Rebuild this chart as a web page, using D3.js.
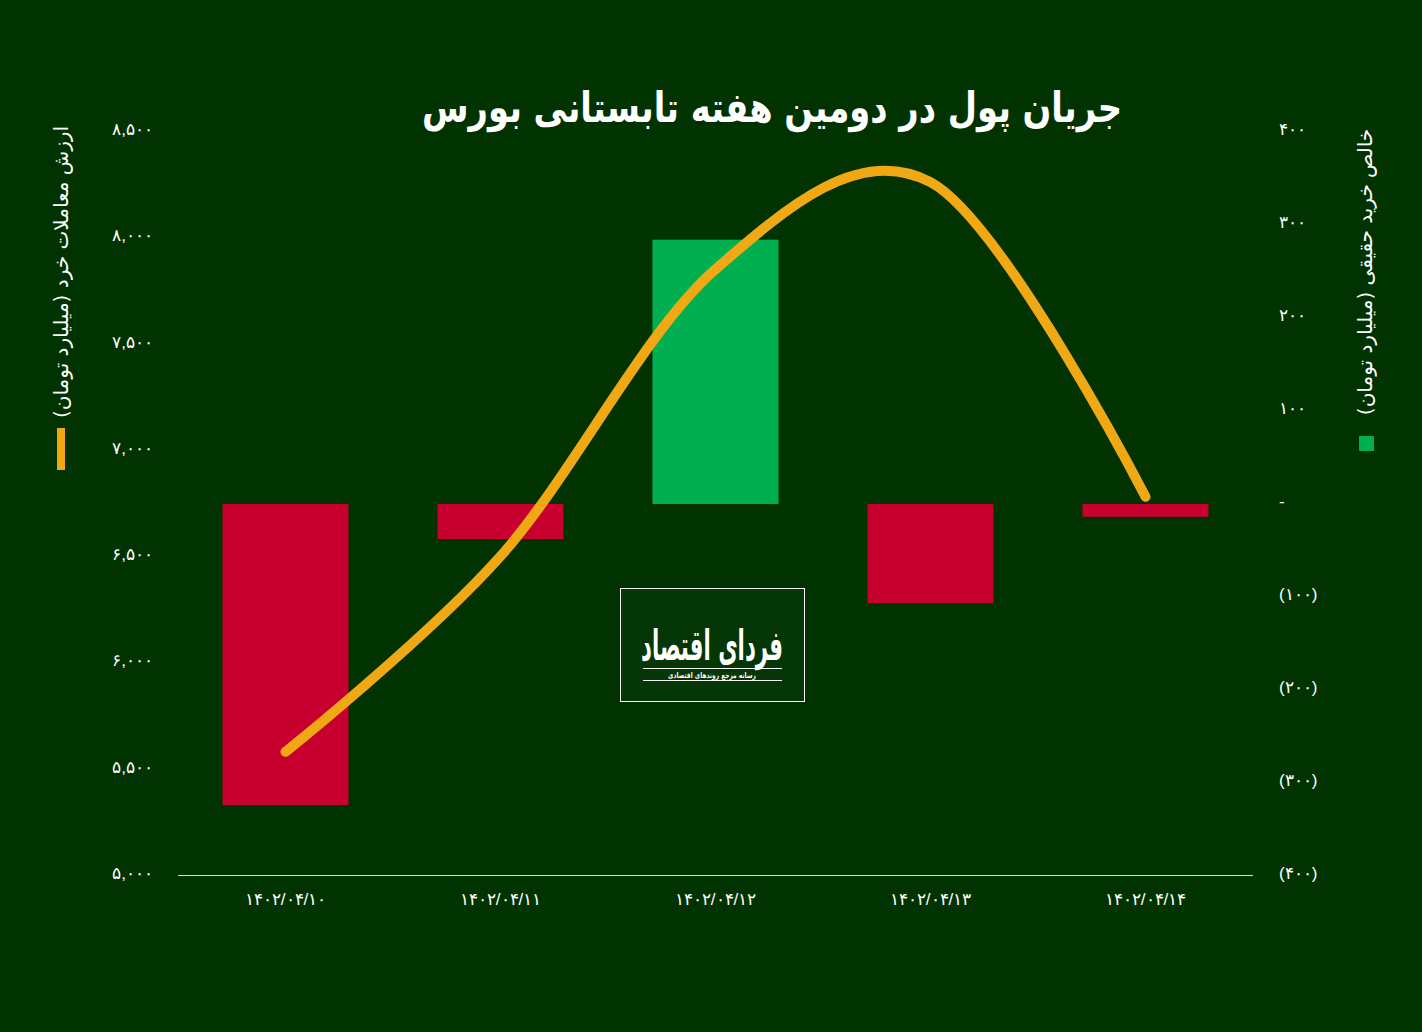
<!DOCTYPE html>
<html><head><meta charset="utf-8">
<script src="https://cdn.jsdelivr.net/npm/d3@7"></script>
<style>
html,body{margin:0;padding:0;background:#003300;}
svg{display:block;font-family:"DejaVu Sans","Noto Sans",sans-serif;}
</style></head>
<body>
<svg id="c" width="1422" height="1032"></svg>
<script>
const dates = ["۱۴۰۲/۰۴/۱۰","۱۴۰۲/۰۴/۱۱","۱۴۰۲/۰۴/۱۲","۱۴۰۲/۰۴/۱۳","۱۴۰۲/۰۴/۱۴"];
const netRetailBuy = [-327, -41, 281, -110, -17];
const retailTradeValue = [5570, 6490, 7840, 8250, 6770];
const leftTicks = [5000,5500,6000,6500,7000,7500,8000,8500];
const rightTicks = [-400,-300,-200,-100,0,100,200,300,400];
const title = "جریان پول در دومین هفته تابستانی بورس";
const leftTitle = "ارزش معاملات خرد (میلیارد تومان)";
const rightTitle = "خالص خرید حقیقی (میلیارد تومان)";

const fa = s => String(s).replace(/\d/g, d => "۰۱۲۳۴۵۶۷۸۹"[d]);
const fmtLeft = v => fa(d3.format(",")(v));
const fmtRight = v => v === 0 ? "-" : (v < 0 ? "(" + fa(-v) + ")" : fa(v));

const svg = d3.select("#c");
const W = 1422, H = 1032;
svg.append("rect").attr("width",W).attr("height",H).attr("fill","#003300");

const x = d3.scaleBand().domain(dates).range([178,1253]).paddingInner(0.414).paddingOuter(0.207);
const yL = d3.scaleLinear().domain([5000,8500]).range([873,129]);
const yR = d3.scaleLinear().domain([-400,400]).range([873,129]);

// title (horizontally condensed to the reference width)
const tt = svg.append("text").attr("x",0).attr("y",0).attr("text-anchor","middle")
  .attr("direction","rtl").attr("fill","#ffffff").attr("font-size",42).attr("font-weight","bold")
  .text(title);
const tw = tt.node().getComputedTextLength();
tt.attr("transform",`translate(772,122) scale(${700/tw},1)`);

// bars
svg.append("g").selectAll("rect").data(netRetailBuy).join("rect")
  .attr("x",(d,i)=>x(dates[i]))
  .attr("width",x.bandwidth())
  .attr("y",d=>d>=0?yR(d):yR(0)+3)
  .attr("height",d=>Math.abs(yR(d)-yR(0)) - (d>=0?-3:3))
  .attr("fill",d=>d>=0?"#00B050":"#C8002F");

// baseline
svg.append("line").attr("x1",178).attr("x2",1253).attr("y1",875.5).attr("y2",875.5)
  .attr("stroke","#d9d9d9").attr("stroke-width",1);

// left axis
const gL = svg.append("g").attr("transform","translate(153,0)")
  .call(d3.axisLeft(yL).tickValues(leftTicks).tickFormat(fmtLeft).tickSize(0).tickPadding(0));
gL.select(".domain").remove();
gL.selectAll("text").attr("fill","#ffffff").attr("font-size",17).attr("direction","ltr");

// right axis
const gR = svg.append("g").attr("transform","translate(1279,0)")
  .call(d3.axisRight(yR).tickValues(rightTicks).tickFormat(fmtRight).tickSize(0).tickPadding(0));
gR.select(".domain").remove();
gR.selectAll("text").attr("fill","#ffffff").attr("font-size",17).attr("direction","ltr");

// x labels
const gX = svg.append("g").attr("transform","translate(0,876)")
  .call(d3.axisBottom(x).tickSize(0).tickPadding(17));
gX.select(".domain").remove();
gX.selectAll("text").attr("fill","#ffffff").attr("font-size",17).attr("direction","ltr");

// line
const line = d3.line().x((d,i)=>x(dates[i])+x.bandwidth()/2).y(d=>yL(d)).curve(d3.curveCardinal.tension(0));
svg.append("path").datum(retailTradeValue).attr("d",line)
  .attr("fill","none").attr("stroke","#F0A814").attr("stroke-width",10)
  .attr("stroke-linecap","round").attr("stroke-linejoin","round");

// axis titles
svg.append("text").attr("transform","translate(68,272) rotate(-90)")
  .attr("text-anchor","middle").attr("direction","rtl").attr("fill","#ffffff").attr("font-size",20)
  .text(leftTitle);
svg.append("rect").attr("x",57).attr("y",428).attr("width",8).attr("height",42).attr("fill","#F0A814");

svg.append("text").attr("transform","translate(1372,272) rotate(-90)")
  .attr("text-anchor","middle").attr("direction","rtl").attr("fill","#ffffff").attr("font-size",20)
  .text(rightTitle);
svg.append("rect").attr("x",1359).attr("y",436).attr("width",15).attr("height",15).attr("fill","#00B050");

// logo
const lg = svg.append("g");
lg.append("rect").attr("x",620.5).attr("y",588.5).attr("width",184).attr("height",113)
  .attr("fill","#053605").attr("stroke","#ffffff").attr("stroke-width",1);
const l1 = lg.append("text").attr("text-anchor","middle").attr("direction","rtl")
  .attr("fill","#ffffff").attr("font-size",42).attr("font-weight","bold").text("فردای اقتصاد");
l1.attr("transform",`translate(712,660) scale(${142/l1.node().getComputedTextLength()},1)`);
lg.append("line").attr("x1",643).attr("x2",782).attr("y1",668.5).attr("y2",668.5).attr("stroke","#ffffff").attr("stroke-width",1);
lg.append("line").attr("x1",643).attr("x2",782).attr("y1",680.5).attr("y2",680.5).attr("stroke","#ffffff").attr("stroke-width",1);
const l2 = lg.append("text").attr("text-anchor","middle").attr("direction","rtl")
  .attr("fill","#ffffff").attr("font-size",8).attr("font-weight","bold").text("رسانه مرجع روندهای اقتصادی");
l2.attr("transform",`translate(712,678) scale(${88/l2.node().getComputedTextLength()},1)`);
</script>
</body></html>
